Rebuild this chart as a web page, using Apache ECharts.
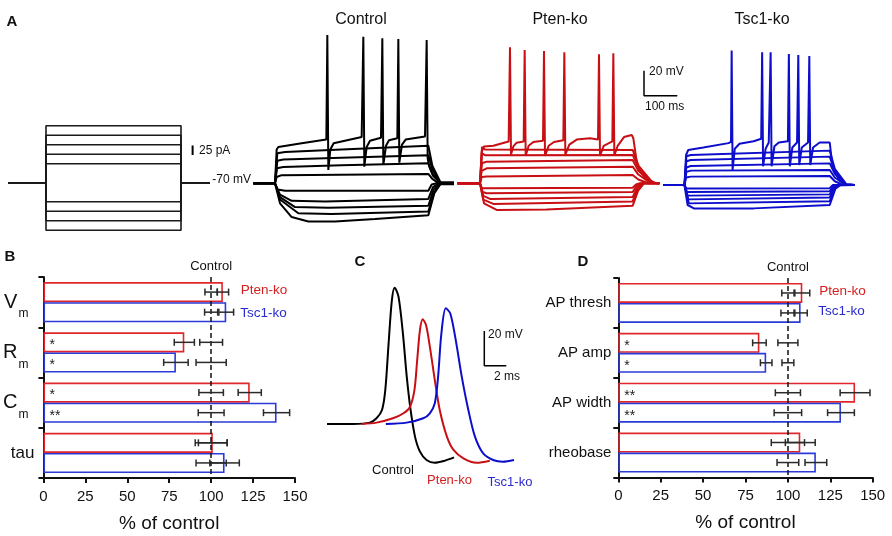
<!DOCTYPE html>
<html><head><meta charset="utf-8">
<script src="https://cdn.jsdelivr.net/npm/echarts@6/dist/echarts.min.js"></script>
<style>html,body{margin:0;padding:0;background:#fff}#c{width:892px;height:536px}</style>
</head><body><div id="c"></div>
<script>
// ================= DATA =================
const groupNames = ['Pten-ko', 'Tsc1-ko'];
const xTickValues = [0, 25, 50, 75, 100, 125, 150];

// Panel B (passive properties, % of control)
const bCategories = ['V_m', 'R_m', 'C_m', 'tau'];
const bPten = [107, 84, 123, 101];
const bPtenErr = [3.4, 6, 6.9, 8.6];
const bTsc1 = [109, 79, 139, 108];
const bTsc1Err = [4.4, 7.3, 7.8, 8.8];
const bCtrlErrPtenRow = [3.7, 6.8, 7.3, 9.5];
const bCtrlErrTsc1Row = [3.9, 9, 7.7, 9];
const bSigPten = ['', '*', '*', ''];
const bSigTsc1 = ['', '*', '**', ''];

// Panel D (AP properties, % of control)
const dCategories = ['AP thresh', 'AP amp', 'AP width', 'rheobase'];
const dPten = [108.5, 83.2, 139.6, 107.3];
const dPtenErr = [4.4, 4, 8.8, 8.8];
const dTsc1 = [107.5, 87.2, 131.3, 116.5];
const dTsc1Err = [3.9, 3.4, 7.9, 6.4];
const dCtrlErrPtenRow = [3.6, 5.9, 7.4, 9.8];
const dCtrlErrTsc1Row = [4.1, 3.5, 8.1, 6.4];
const dSigPten = ['', '*', '**', ''];
const dSigTsc1 = ['', '*', '**', ''];

// Panel C (single APs, ms / mV relative to baseline)
const apControl = [[0,0],[2.4,0],[3.9,0.8],[4.5,3.3],[5.0,8.1],[5.3,19.7],[5.6,46.6],[5.9,71.7],[6.15,78.8],[6.5,73.6],[6.9,52.4],[7.25,27.4],[7.6,8.1],[8.0,-7.3],[8.45,-16],[9.05,-20.8],[9.8,-22.4],[10.7,-21.2],[11.55,-19.3]];
const apPten = [[3.15,0],[4.5,0.8],[6.0,3.3],[6.95,6.2],[7.55,10],[7.95,19.7],[8.2,37],[8.45,54.3],[8.7,60.5],[9.0,57.2],[9.35,44.7],[9.8,25.4],[10.25,8.1],[10.9,-7.3],[11.5,-15],[12.4,-19.8],[13.6,-22.4],[14.8,-21.2]];
const apTsc1 = [[5.35,0],[7.25,0.8],[8.75,3.3],[9.35,6.2],[9.8,12],[10.1,27.4],[10.4,52.4],[10.8,66.9],[11.2,64],[11.65,50.5],[12.25,27.4],[12.85,8.1],[13.45,-7.3],[14.2,-17],[15.1,-20.8],[16.0,-21.8],[17.0,-20.8]];
const apScaleBar = [[14.3,53.7],[14.3,33.7],[16.3,33.7]];

// Panel A: current step protocol (pA), times (ms)
const stepLevels = [150, 125, 100, 75, 50, -50, -75, -100, -125];
const stepTimes = [-140, 0, 500, 607];
const stepScaleBar = [[543,73],[543,98]];

// Panel A: voltage traces (ms, mV)
const ctrlTraces = [
 [[-65,-70],[0,-70],[5,-65],[20,-63.5],[460,-62.5],[472,-66.5],[492,-70],[537,-70]],
 [[-65,-70],[0,-70],[6,-58],[25,-57],[200,-55.5],[460,-54],[472,-62],[494,-69.5],[537,-70]],
 [[-65,-70],[0,-70],[7,-52],[25,-51],[200,-49.5],[460,-47.5],[472,-59],[496,-69.5],[537,-70]],
 [[-65,-70],[0,-70],[7,-46],[30,-45],[200,-43],[460,-40],[472,-56],[497,-69.5],[537,-70]],
 [[-65,-70],[0,-70],[5,-43],[10,-41],[80,-38],[154,-35],[157,48.7],[160,-59.3],[166,-43],[176,-38],[260,-33],[265,47.3],[268,-56.7],[275,-41],[285,-36],[318,-33.5],[322,46],[325,-55.3],[333,-40],[342,-35.5],[367,-34],[370,45.5],[373,-53.5],[381,-39],[392,-35],[450,-32.5],[455,44.7],[458,-50],[462,-56],[474,-64],[496,-69.5],[537,-70]],
 [[-65,-70],[0,-70],[8,-75],[30,-76],[460,-76],[470,-71],[485,-70],[537,-70]],
 [[-65,-70],[0,-70],[15,-79],[50,-84],[150,-84.5],[460,-82.5],[474,-73],[492,-70],[537,-70]],
 [[-65,-70],[0,-70],[15,-81],[60,-89],[160,-89.5],[460,-88],[476,-75],[495,-70],[537,-70]],
 [[-65,-70],[0,-70],[15,-83],[70,-94],[170,-94.5],[460,-92.5],[478,-77],[497,-70],[537,-70]],
 [[-65,-70],[0,-70],[15,-86],[50,-97],[100,-100.5],[180,-100.5],[300,-98.5],[460,-95.5],[478,-78],[498,-70],[537,-70]]
];
const ctrlTail = [[495,-70],[537,-70]];
const ptenTraces = [
 [[-68,-70],[0,-70],[5,-65],[20,-64.5],[458,-63.3],[475,-67],[505,-70],[538,-70]],
 [[-68,-70],[0,-70],[5,-60],[20,-58],[458,-56.7],[475,-63],[510,-69.5],[538,-70]],
 [[-68,-70],[0,-70],[6,-54],[20,-52.7],[458,-51.3],[475,-60],[515,-69.5],[538,-70]],
 [[-68,-70],[0,-70],[6,-46],[15,-47.5],[458,-47.3],[476,-58],[515,-69.5],[538,-70]],
 [[-68,-70],[0,-70],[6,-41],[15,-43],[458,-43.3],[476,-56],[518,-69.5],[538,-70]],
 [[-68,-70],[0,-70],[5,-45],[12,-40.5],[40,-40],[86,-36.5],[90,38.8],[93,-47],[100,-40.5],[110,-37.5],[131,-36.5],[134,36.7],[137,-48],[146,-40],[160,-37],[189,-36],[192,35.9],[195,-48],[206,-40],[222,-37],[250,-35.5],[253,34.8],[256,-47],[268,-39],[290,-35],[330,-34],[354,-35],[357,33.2],[360,-48],[371,-40],[397,-36.5],[400,34],[403,-48],[413,-40],[432,-33],[455,-31.3],[460,-34],[472,-56],[495,-66],[525,-69.5],[538,-70]],
 [[-68,-70],[0,-70],[6,-74],[458,-73.5],[468,-71],[480,-70],[538,-70]],
 [[-68,-70],[0,-70],[8,-77],[20,-78],[458,-77],[470,-72],[485,-70],[538,-70]],
 [[-68,-70],[0,-70],[10,-80],[30,-82.5],[458,-81],[470,-74],[488,-70],[538,-70]],
 [[-68,-70],[0,-70],[10,-83],[40,-86.5],[458,-84.5],[472,-75],[490,-70],[538,-70]],
 [[-68,-70],[0,-70],[12,-86],[50,-91.3],[200,-91],[458,-88],[474,-76],[492,-70],[538,-70]]
];
const tscTraces = [
 [[-68,-70],[0,-70],[5,-64],[20,-63.3],[462,-62.8],[478,-67],[505,-70],[540,-70]],
 [[-68,-70],[0,-70],[6,-59.5],[20,-58.5],[462,-58],[478,-64],[510,-69.5],[540,-70]],
 [[-68,-70],[0,-70],[6,-56],[20,-54.8],[462,-52.7],[478,-61],[512,-69.5],[540,-70]],
 [[-68,-70],[0,-70],[6,-51],[20,-50],[462,-47.3],[478,-59],[514,-69.5],[540,-70]],
 [[-68,-70],[0,-70],[6,-47],[20,-46],[462,-42.5],[478,-57],[515,-69.5],[540,-70]],
 [[-68,-70],[0,-70],[5,-46],[12,-42],[60,-40],[140,-36.5],[148,-35.5],[150,37.5],[153,-58],[160,-41],[175,-37],[220,-35],[244,-33],[247,36.1],[250,-55],[258,-41],[268,-36],[271,-35.5],[274,36.1],[277,-55],[286,-39],[300,-36],[329,-35],[332,34.8],[335,-55],[343,-40],[358,-36],[362,34],[365,-54],[373,-40],[393,-36],[397,33.2],[400,-54],[409,-40],[430,-36],[462,-36],[470,-54],[490,-65],[515,-69.5],[540,-70]],
 [[-68,-70],[0,-70],[6,-72.7],[462,-72.5],[472,-70],[540,-70]],
 [[-68,-70],[0,-70],[8,-75.6],[462,-75],[474,-70.5],[540,-70]],
 [[-68,-70],[0,-70],[10,-78.5],[462,-77.5],[476,-71],[490,-70],[540,-70]],
 [[-68,-70],[0,-70],[12,-81.5],[462,-80],[478,-71.5],[492,-70],[540,-70]],
 [[-68,-70],[0,-70],[14,-84.7],[462,-83],[480,-72],[494,-70],[540,-70]],
 [[-68,-70],[0,-70],[10,-86],[30,-88.7],[220,-88.7],[462,-86],[480,-73],[496,-70],[540,-70]]
];
const traceScaleBar = [[492,20],[492,0],[592,0]];

// ================= STYLE =================
const FONT = 'Liberation Sans, Arial, Helvetica, sans-serif';
const RED = '#e0262b', BLUE = '#2b3bd8';
const RED_T = '#c80f14', BLUE_T = '#0d0dcc';
const RED_TXT = '#d42020', BLUE_TXT = '#2a2acf';
const INK = '#111';

const chart = echarts.init(document.getElementById('c'), null, {renderer: 'canvas'});

function errRows(vals, errs, ctrlErrs, pos) {
  const rows = [];
  vals.forEach((v, i) => {
    rows.push([100 - ctrlErrs[i], 100 + ctrlErrs[i], i, pos]);
    rows.push([v - errs[i], v + errs[i], i, pos]);
  });
  return rows;
}
function errSeries(gi, rows) {
  return {
    type: 'custom', xAxisIndex: gi, yAxisIndex: gi, data: rows, z: 6, silent: true,
    encode: {x: [0, 1], y: 2},
    renderItem(params, api) {
      const cat = api.value(2), pos = api.value(3);
      const band = api.size([0, 1])[1];
      const p1 = api.coord([api.value(0), cat]);
      const p2 = api.coord([api.value(1), cat]);
      const y = p1[1] + pos * 0.2 * band;
      const h = 3.5, st = {stroke: '#2a2a2a', lineWidth: 1.5};
      return {type: 'group', children: [
        {type: 'line', shape: {x1: p1[0], y1: y, x2: p2[0], y2: y}, style: st},
        {type: 'line', shape: {x1: p1[0], y1: y - h, x2: p1[0], y2: y + h}, style: st},
        {type: 'line', shape: {x1: p2[0], y1: y - h, x2: p2[0], y2: y + h}, style: st}
      ]};
    }
  };
}
function barSeries(gi, data, color, sig, withLine) {
  const s = {
    type: 'bar', xAxisIndex: gi, yAxisIndex: gi, data: data,
    barGap: '0%', barCategoryGap: '20%',
    itemStyle: {color: 'rgba(255,255,255,0)', borderColor: color, borderWidth: 1.6},
    label: {show: true, position: 'insideLeft', distance: 6, offset: [0, 3],
      formatter: p => sig[p.dataIndex], fontSize: 14, color: '#222', fontFamily: FONT},
    silent: true, z: 3
  };
  if (withLine) {
    s.markLine = {
      silent: true, symbol: ['none', 'none'], data: [{xAxis: 100}],
      lineStyle: {type: [5, 3], color: INK, width: 1.5},
      label: {show: true, position: 'start', formatter: 'Control', color: INK, fontSize: 13, fontFamily: FONT, distance: 4},
      animation: false
    };
  }
  return s;
}
function valueXAxis(gi, nameStr) {
  return {
    type: 'value', gridIndex: gi, min: 0, max: 150, interval: 25,
    axisLine: {show: true, lineStyle: {color: INK, width: 2}},
    axisTick: {show: true, length: 5, lineStyle: {color: INK, width: 2}},
    axisLabel: {color: INK, fontSize: 15, fontFamily: FONT, margin: 11,
      formatter: v => xTickValues.includes(v) ? String(v) : ''},
    splitLine: {show: false},
    name: nameStr, nameLocation: 'middle', nameGap: 36,
    nameTextStyle: {color: INK, fontSize: 19, fontFamily: FONT}
  };
}
function catYAxis(gi, cats, labelCfg) {
  return {
    type: 'category', gridIndex: gi, data: cats, inverse: true,
    axisLine: {show: true, lineStyle: {color: INK, width: 2}},
    axisTick: {show: true, length: 5, alignWithLabel: false, lineStyle: {color: INK, width: 2}},
    axisLabel: labelCfg, splitLine: {show: false}
  };
}
function hiddenAxis(type, gi, min, max) {
  return {type: type, gridIndex: gi, min: min, max: max, show: false};
}
function traceSeries(traces, gi, color) {
  return traces.map(tr => ({
    type: 'line', xAxisIndex: gi, yAxisIndex: gi, data: tr, symbol: 'none',
    lineStyle: {color: color, width: 2}, silent: true, clip: false, z: 2
  }));
}
function text(x, y, str, opts) {
  return {type: 'text', x: x, y: y, style: Object.assign({
    text: str, fontFamily: FONT, fontSize: 13, fill: INK, textVerticalAlign: 'middle', textAlign: 'left'
  }, opts || {})};
}

const stepSeries = stepLevels.map(L => ({
  type: 'line', xAxisIndex: 3, yAxisIndex: 3, symbol: 'none', silent: true, clip: false,
  data: [[stepTimes[0], 0], [stepTimes[1], 0], [stepTimes[1], L], [stepTimes[2], L], [stepTimes[2], 0], [stepTimes[3], 0]],
  lineStyle: {color: '#1a1a1a', width: 1.6}
}));

const option = {
  animation: false,
  backgroundColor: '#fff',
  textStyle: {fontFamily: FONT},
  grid: [
    {left: 39.3, top: 277, width: 255.7, height: 201},
    {left: 618.3, top: 278, width: 254.4, height: 199.5},
    {left: 327, top: 268.3, width: 198, height: 207.6},
    {left: 8.2, top: 106.7, width: 202.5, height: 152},
    {left: 248.33, top: 20.8, width: 246.67, height: 225},
    {left: 453.33, top: 20.8, width: 246.67, height: 225},
    {left: 659.33, top: 22.5, width: 246.67, height: 225}
  ],
  xAxis: [
    valueXAxis(0, '% of control'),
    valueXAxis(1, '% of control'),
    hiddenAxis('value', 2, 0, 18),
    hiddenAxis('value', 3, -140, 610),
    hiddenAxis('value', 4, -80, 660),
    hiddenAxis('value', 5, -80, 660),
    hiddenAxis('value', 6, -80, 660)
  ],
  yAxis: [
    catYAxis(0, bCategories, {
      margin: 9, color: INK, fontFamily: FONT,
      formatter: v => v.indexOf('_') >= 0 ? '{b|' + v.split('_')[0] + '}{s|' + v.split('_')[1] + '}' : '{t|' + v + '}',
      rich: {
        b: {fontSize: 20, color: INK, fontFamily: FONT},
        s: {fontSize: 12, color: INK, fontFamily: FONT, padding: [24, 6, 0, 1]},
        t: {fontSize: 17, color: INK, fontFamily: FONT}
      }
    }),
    catYAxis(1, dCategories, {margin: 7, color: INK, fontSize: 15, fontFamily: FONT}),
    hiddenAxis('value', 2, -30, 90),
    hiddenAxis('value', 3, -200, 200),
    hiddenAxis('value', 4, -120, 60),
    hiddenAxis('value', 5, -120, 60),
    hiddenAxis('value', 6, -120, 60)
  ],
  series: [
    barSeries(0, bPten, RED, bSigPten, true),
    barSeries(0, bTsc1, BLUE, bSigTsc1, false),
    errSeries(0, errRows(bPten, bPtenErr, bCtrlErrPtenRow, -1).concat(errRows(bTsc1, bTsc1Err, bCtrlErrTsc1Row, 1))),
    barSeries(1, dPten, RED, dSigPten, true),
    barSeries(1, dTsc1, BLUE, dSigTsc1, false),
    errSeries(1, errRows(dPten, dPtenErr, dCtrlErrPtenRow, -1).concat(errRows(dTsc1, dTsc1Err, dCtrlErrTsc1Row, 1))),
    {type: 'line', xAxisIndex: 2, yAxisIndex: 2, data: apControl, symbol: 'none', smooth: 0.3, silent: true, clip: false, lineStyle: {color: '#000', width: 2}},
    {type: 'line', xAxisIndex: 2, yAxisIndex: 2, data: apPten, symbol: 'none', smooth: 0.3, silent: true, clip: false, lineStyle: {color: RED_T, width: 2}},
    {type: 'line', xAxisIndex: 2, yAxisIndex: 2, data: apTsc1, symbol: 'none', smooth: 0.3, silent: true, clip: false, lineStyle: {color: BLUE_T, width: 2}},
    {type: 'line', xAxisIndex: 2, yAxisIndex: 2, data: apScaleBar, symbol: 'none', silent: true, clip: false, lineStyle: {color: '#000', width: 1.5}},
    ...stepSeries,
    {type: 'line', xAxisIndex: 3, yAxisIndex: 3, data: stepScaleBar, symbol: 'none', silent: true, clip: false, lineStyle: {color: '#000', width: 2}},
    ...traceSeries(ctrlTraces, 4, '#000'),
    {type: 'line', xAxisIndex: 4, yAxisIndex: 4, data: ctrlTail, symbol: 'none', silent: true, clip: false, lineStyle: {color: '#000', width: 4}},
    ...traceSeries(ptenTraces, 5, RED_T),
    ...traceSeries(tscTraces, 6, BLUE_T),
    {type: 'line', xAxisIndex: 5, yAxisIndex: 5, data: traceScaleBar, symbol: 'none', silent: true, clip: false, lineStyle: {color: '#000', width: 1.5}}
  ],
  graphic: [
    text(6.5, 21.7, 'A', {fontSize: 15, fontWeight: 'bold'}),
    text(4.5, 256.7, 'B', {fontSize: 15, fontWeight: 'bold'}),
    text(354.5, 262, 'C', {fontSize: 15, fontWeight: 'bold'}),
    text(577.5, 261.5, 'D', {fontSize: 15, fontWeight: 'bold'}),
    text(361, 20, 'Control', {fontSize: 16, textAlign: 'center'}),
    text(560, 20, groupNames[0], {fontSize: 16, textAlign: 'center'}),
    text(762, 20, groupNames[1], {fontSize: 16, textAlign: 'center'}),
    text(199, 150.7, '25 pA', {fontSize: 12}),
    text(212.3, 180, '-70 mV', {fontSize: 12}),
    text(649, 71.7, '20 mV', {fontSize: 12}),
    text(645, 106.7, '100 ms', {fontSize: 12}),
    text(240.7, 290, groupNames[0], {fontSize: 13.5, fill: RED_TXT}),
    text(240.3, 313.3, groupNames[1], {fontSize: 13.5, fill: BLUE_TXT}),
    text(819.3, 291, groupNames[0], {fontSize: 13.5, fill: RED_TXT}),
    text(818.3, 311, groupNames[1], {fontSize: 13.5, fill: BLUE_TXT}),
    text(488, 335, '20 mV', {fontSize: 12}),
    text(494, 376.7, '2 ms', {fontSize: 12}),
    text(393, 470, 'Control', {fontSize: 13, textAlign: 'center'}),
    text(449.5, 480, groupNames[0], {fontSize: 13, textAlign: 'center', fill: RED_TXT}),
    text(510, 482, groupNames[1], {fontSize: 13, textAlign: 'center', fill: BLUE_TXT})
  ]
};
chart.setOption(option);
</script>
</body></html>
